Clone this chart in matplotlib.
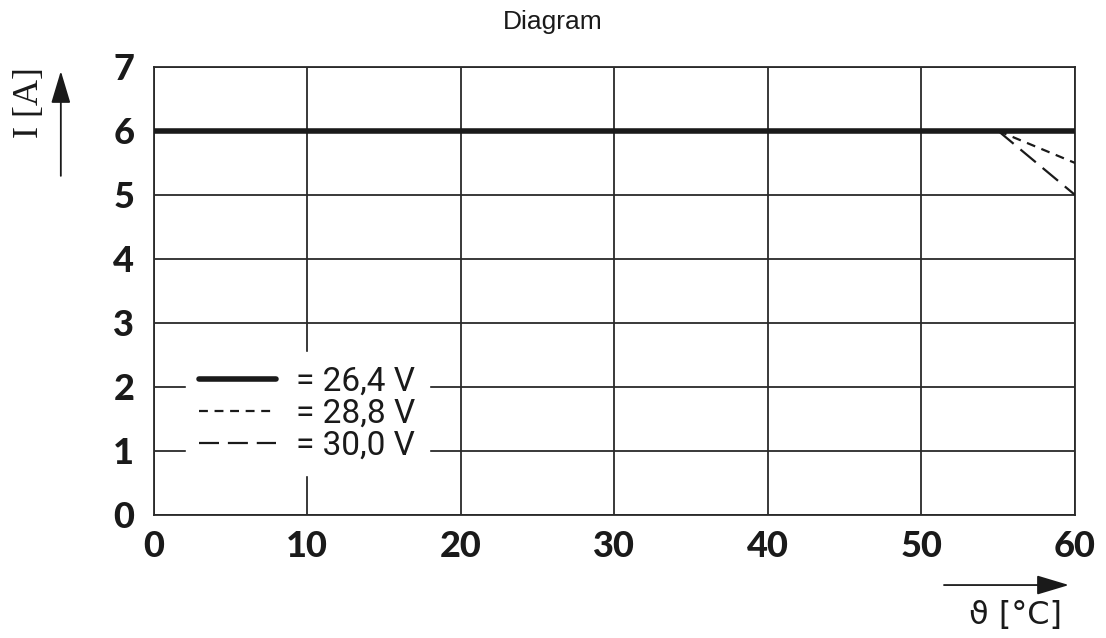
import numpy as np
import matplotlib.pyplot as plt

plt.rcParams['figure.figsize'] = [11.06, 6.38]
plt.rcParams['font.family'] = ['Roboto', 'DejaVu Sans']

# 곡선 데이터
temp_264 = [0, 60]
curr_264 = [6, 6]
temp_288 = [55, 60]
curr_288 = [6, 5.5]
temp_300 = [55, 60]
curr_300 = [6, 5.0]

labels = ['= 26,4 V', '= 28,8 V', '= 30,0 V']
x_ticks = [0, 10, 20, 30, 40, 50, 60]
y_ticks = [0, 1, 2, 3, 4, 5, 6, 7]

fig = plt.figure(dpi=100)
ax = fig.add_axes([0.139, 0.193, 0.833, 0.702])

ax.plot(temp_264, curr_264, color='#1a1a1a', linewidth=4, solid_capstyle='round', label=labels[0], zorder=3)
ax.plot(temp_288, curr_288, color='#1a1a1a', linewidth=1.6, dashes=(4, 3), label=labels[1], zorder=3)
ax.plot(temp_300, curr_300, color='#1a1a1a', linewidth=1.6, dashes=(9, 4), label=labels[2], zorder=3)

ax.set_xlim(0, 60)
ax.set_ylim(0, 7)
ax.set_xticks(x_ticks)
ax.set_yticks(y_ticks)
ax.grid(True, color='#2a2a2a', linewidth=1.3)
ax.set_axisbelow(True)
for s in ax.spines.values():
    s.set_color('#2a2a2a')
    s.set_linewidth(1.3)

ax.tick_params(length=0, labelsize=26, colors='#1a1a1a')
ax.tick_params(axis='y', pad=14)
ax.tick_params(axis='x', pad=11)
for t in ax.get_xticklabels() + ax.get_yticklabels():
    t.set_fontweight('black')
    t.set_family(['Lato', 'DejaVu Sans'])

# 범례 (흰 배경으로 격자 가림)
leg = ax.legend(loc='lower left', bbox_to_anchor=(0.017, 0.052),
                prop={'family': ['Roboto', 'DejaVu Sans'], 'size': 24},
                frameon=True, framealpha=1, edgecolor='white', fancybox=False,
                handlelength=2.3, handletextpad=0.6, labelspacing=0.0,
                borderpad=0.4)
for t in leg.get_texts():
    t.set_color('#1a1a1a')

# 제목
fig.text(0.5, 0.965, 'Diagram', ha='center', va='center', fontsize=19,
         family=['Liberation Sans', 'DejaVu Sans'], color='#1a1a1a')

# 축 화살표와 라벨
arrow = dict(arrowstyle='-|>,head_width=0.6,head_length=2.0', color='#1a1a1a', lw=1.3)
ax.annotate('', xy=(0.055, 0.893), xytext=(0.055, 0.72), xycoords='figure fraction',
            textcoords='figure fraction', arrowprops=arrow)
fig.text(0.027, 0.84, 'I [A]', rotation=90, ha='center', va='center', fontsize=26,
         family=['Liberation Serif', 'DejaVu Serif'], color='#1a1a1a')
ax.annotate('', xy=(0.969, 0.083), xytext=(0.851, 0.083), xycoords='figure fraction',
            textcoords='figure fraction', arrowprops=arrow)
fig.text(0.918, 0.036, 'ϑ [°C]', ha='center', va='center', fontsize=23,
         family=['DejaVu Sans'], color='#1a1a1a')

plt.savefig('out.png')
